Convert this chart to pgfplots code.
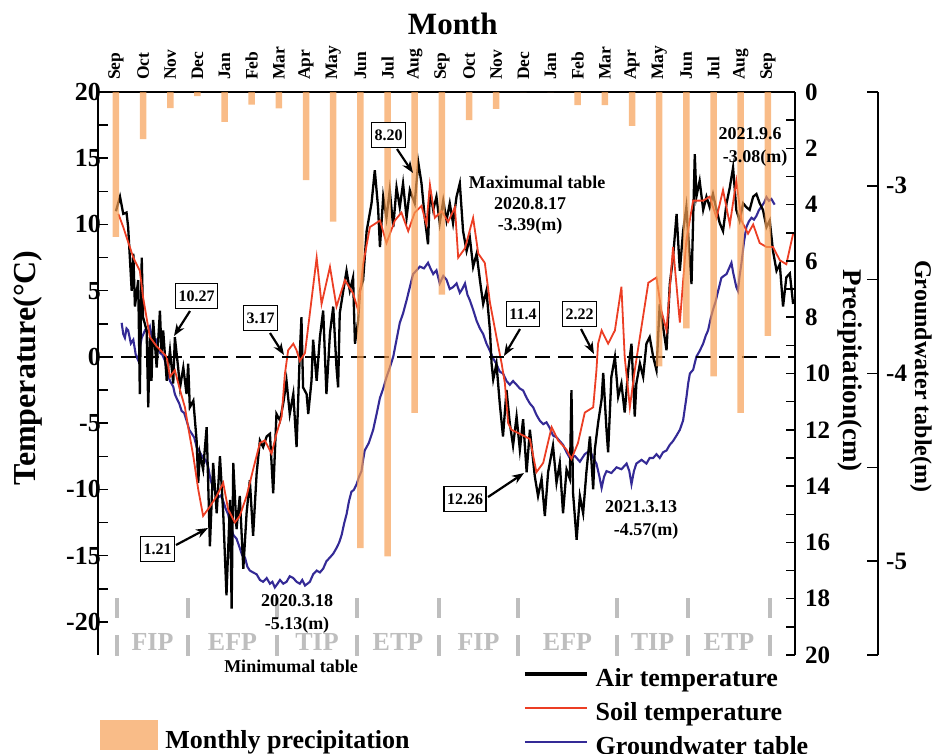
\documentclass[border=0pt]{standalone}
\usepackage{fontspec}
\setmainfont{Liberation Serif}
\usepackage{pgfplots}
\pgfplotsset{compat=1.18}
\usetikzlibrary{arrows.meta}
\definecolor{precip}{RGB}{247,160,85}
\definecolor{soil}{RGB}{236,62,36}
\definecolor{gw}{RGB}{52,42,150}
\definecolor{phase}{RGB}{190,190,190}
\newcommand{\fs}[1]{\fontsize{#1}{#1}\selectfont\bfseries}
\begin{document}
\begin{tikzpicture}[x=1pt,y=1pt]
\useasboundingbox (0,0) rectangle (934,-753);
\pgfplotsset{
  base/.style={scale only axis, width=697pt, height=563pt,
    at={(98pt,-655pt)}, anchor=south west, xmin=-0.66, xmax=25,
    /pgf/number format/assume math mode=true},
}
% ---------- groundwater line (hidden axis) ----------
\begin{axis}[base, ymin=-5.5, ymax=-2.5, hide axis]
\addplot[gw, line width=2.1pt] table {
0.21 -3.73
0.27 -3.79
0.33 -3.81
0.39 -3.76
0.45 -3.77
0.55 -3.84
0.64 -3.82
0.73 -3.90
0.82 -3.93
0.88 -3.86
0.95 -3.81
1.07 -3.77
1.16 -3.78
1.25 -3.75
1.31 -3.80
1.37 -3.81
1.50 -3.82
1.56 -3.87
1.62 -3.89
1.71 -3.90
1.80 -3.93
1.90 -4.00
1.99 -4.04
2.11 -4.07
2.17 -4.11
2.23 -4.13
2.33 -4.16
2.42 -4.20
2.51 -4.21
2.60 -4.25
2.70 -4.30
2.79 -4.32
2.88 -4.34
2.97 -4.39
3.09 -4.42
3.21 -4.45
3.30 -4.46
3.40 -4.50
3.49 -4.57
3.58 -4.61
3.68 -4.63
3.77 -4.66
3.86 -4.65
3.95 -4.68
4.04 -4.72
4.13 -4.75
4.22 -4.81
4.32 -4.86
4.44 -4.88
4.56 -4.93
4.65 -4.97
4.75 -4.98
4.84 -5.03
4.93 -5.05
5.05 -5.06
5.18 -5.07
5.30 -5.10
5.42 -5.11
5.55 -5.09
5.67 -5.12
5.76 -5.11
5.85 -5.14
5.95 -5.12
6.04 -5.10
6.16 -5.12
6.28 -5.11
6.40 -5.08
6.53 -5.09
6.65 -5.11
6.77 -5.12
6.86 -5.10
6.96 -5.13
7.05 -5.12
7.14 -5.11
7.26 -5.07
7.39 -5.05
7.51 -5.06
7.63 -5.04
7.75 -5.00
7.88 -4.98
8.00 -4.96
8.12 -4.93
8.22 -4.90
8.31 -4.86
8.40 -4.80
8.49 -4.75
8.58 -4.68
8.67 -4.63
8.76 -4.62
8.86 -4.59
8.95 -4.55
9.04 -4.52
9.10 -4.46
9.16 -4.41
9.31 -4.37
9.47 -4.30
9.59 -4.22
9.72 -4.13
9.84 -4.08
9.96 -4.02
10.08 -3.97
10.21 -3.91
10.33 -3.82
10.45 -3.73
10.57 -3.68
10.70 -3.61
10.82 -3.54
10.94 -3.47
11.07 -3.45
11.19 -3.43
11.34 -3.44
11.49 -3.41
11.58 -3.44
11.68 -3.47
11.80 -3.45
11.92 -3.52
12.05 -3.48
12.17 -3.50
12.29 -3.55
12.41 -3.54
12.54 -3.52
12.66 -3.57
12.75 -3.55
12.85 -3.52
12.94 -3.58
13.03 -3.61
13.15 -3.66
13.28 -3.72
13.40 -3.76
13.52 -3.79
13.64 -3.84
13.77 -3.88
13.89 -3.92
14.01 -3.95
14.13 -3.99
14.25 -4.00
14.38 -4.04
14.50 -4.06
14.62 -4.04
14.75 -4.06
14.87 -4.08
14.99 -4.09
15.12 -4.13
15.24 -4.16
15.36 -4.18
15.48 -4.22
15.60 -4.25
15.73 -4.27
15.85 -4.26
15.97 -4.29
16.09 -4.33
16.22 -4.34
16.34 -4.36
16.46 -4.38
16.59 -4.42
16.71 -4.45
16.90 -4.44
17.08 -4.47
17.26 -4.43
17.45 -4.41
17.57 -4.45
17.69 -4.48
17.80 -4.55
17.88 -4.61
17.97 -4.55
18.06 -4.52
18.24 -4.53
18.43 -4.50
18.61 -4.51
18.80 -4.48
18.90 -4.52
18.98 -4.59
19.07 -4.52
19.16 -4.48
19.35 -4.46
19.53 -4.48
19.65 -4.45
19.78 -4.45
19.90 -4.43
20.02 -4.45
20.14 -4.42
20.27 -4.41
20.39 -4.38
20.51 -4.36
20.64 -4.33
20.76 -4.30
20.88 -4.25
20.94 -4.19
21.00 -4.13
21.07 -4.05
21.13 -4.00
21.25 -3.98
21.37 -3.91
21.49 -3.88
21.62 -3.84
21.71 -3.80
21.80 -3.77
21.89 -3.71
21.98 -3.66
22.07 -3.62
22.17 -3.56
22.29 -3.49
22.38 -3.48
22.48 -3.47
22.57 -3.44
22.66 -3.41
22.72 -3.46
22.78 -3.50
22.84 -3.54
22.90 -3.56
22.96 -3.48
23.03 -3.41
23.12 -3.30
23.21 -3.22
23.30 -3.19
23.40 -3.17
23.49 -3.18
23.58 -3.16
23.67 -3.13
23.77 -3.11
23.86 -3.09
23.95 -3.06
24.04 -3.08
24.13 -3.07
24.25 -3.10
};
\end{axis}
% ---------- temperature axis ----------
\begin{axis}[base, ymin=-22.5, ymax=20,
  axis x line*=top, axis y line*=left,
  axis line style={line width=1.5pt},
  xtick={0,...,24},
  xticklabels={Sep,Oct,Nov,Dec,Jan,Feb,Mar,Apr,May,Jun,Jul,Aug,Sep,Oct,Nov,Dec,Jan,Feb,Mar,Apr,May,Jun,Jul,Aug,Sep},
  x tick style={draw=none},
  xticklabel style={rotate=90, anchor=west, font=\fs{17.5}, inner xsep=12pt, inner ysep=0pt},
  ytick={-20,-15,...,20}, minor ytick={-17.5,-12.5,...,17.5},
  y tick style={line width=1.5pt, black},
  tick align=inside, major tick length=10pt, minor tick length=10pt,
  yticklabel style={font=\fs{26}, inner sep=0pt, xshift=3pt},
  xlabel={Month}, xlabel style={font=\fs{31}, at={(axis description cs:0.509,1.103)}, anchor=base},
  ylabel={Temperature(°C)}, ylabel style={font=\fs{32}, at={(axis description cs:-0.10,0.51)}, anchor=center},
  legend style={at={(axis description cs:0.6098,-0.021)}, anchor=north west, draw=none, fill=none,
    inner sep=0pt, font=\fs{26}, row sep=8pt, column sep=6pt,
    nodes={inner sep=1pt, text height=18pt, text depth=6pt}},
  legend cell align=left,
  legend image code/.code={\draw[#1] (0pt,6pt) -- (62pt,6pt);},
]
\addplot[black, line width=2.3pt, forget plot] table {
0.00 11.0
0.15 12.1
0.27 10.8
0.39 10.9
0.45 9.8
0.58 5.0
0.64 7.8
0.70 3.8
0.82 5.8
0.88 -2.8
0.95 7.5
1.00 3.0
1.13 2.0
1.19 -3.8
1.25 1.5
1.31 -1.8
1.37 2.8
1.50 -0.8
1.62 3.5
1.68 0.3
1.74 2.0
1.87 -1.8
1.99 0.5
2.11 -2.0
2.17 1.5
2.29 -0.8
2.36 -2.3
2.48 -0.8
2.60 -2.8
2.66 -0.5
2.72 -3.8
2.85 -3.3
2.97 -6.3
3.03 -9.5
3.09 -7.3
3.21 -8.5
3.34 -5.3
3.46 -14.3
3.58 -8.0
3.71 -11.8
3.83 -7.5
3.95 -11.8
4.07 -18.0
4.20 -10.8
4.26 -19.0
4.32 -8.0
4.44 -13.0
4.56 -10.5
4.69 -16.0
4.81 -11.8
4.93 -9.3
5.05 -13.5
5.18 -8.8
5.30 -6.3
5.42 -6.8
5.55 -6.0
5.67 -5.8
5.79 -10.3
5.91 -4.3
6.04 -4.8
6.16 -3.5
6.28 -1.8
6.40 -4.3
6.53 -2.8
6.65 -6.8
6.77 0.3
6.83 3.0
6.89 -2.3
7.02 -2.8
7.08 -4.3
7.20 -1.8
7.26 1.3
7.39 -1.8
7.51 1.5
7.63 3.5
7.75 -2.8
7.88 1.8
8.00 3.8
8.12 -0.8
8.18 -2.3
8.24 3.3
8.37 5.0
8.49 6.5
8.61 5.0
8.73 6.0
8.80 1.0
8.92 2.8
8.98 5.0
9.10 5.8
9.23 9.5
9.41 11.6
9.53 14.1
9.65 11.3
9.72 8.3
9.84 12.1
9.96 10.5
10.08 12.6
10.21 9.8
10.33 12.8
10.45 11.3
10.57 13.1
10.70 10.5
10.82 12.6
11.00 11.6
11.13 14.7
11.25 13.1
11.37 10.5
11.49 8.5
11.56 12.6
11.68 11.1
11.80 12.1
11.92 10.1
12.05 11.8
12.17 10.3
12.29 11.6
12.41 10.1
12.54 12.1
12.66 13.1
12.78 9.5
12.91 8.0
13.03 9.0
13.15 6.8
13.28 7.8
13.40 5.8
13.52 4.0
13.64 5.0
13.77 2.0
13.83 -0.5
13.89 -1.7
14.01 -0.5
14.13 -3.5
14.25 -6.0
14.38 -2.5
14.50 -5.0
14.62 -6.7
14.75 -4.5
14.87 -7.0
14.99 -4.7
15.12 -8.7
15.24 -5.5
15.42 -9.0
15.54 -10.5
15.67 -9.2
15.79 -12.0
15.91 -8.7
16.09 -6.7
16.22 -9.5
16.34 -8.0
16.46 -11.8
16.59 -8.5
16.71 -9.2
16.77 -2.5
16.83 -10.3
16.96 -13.8
17.08 -10.5
17.20 -11.8
17.32 -8.7
17.45 -6.0
17.57 -10.0
17.63 -7.0
17.75 -5.0
17.88 -3.2
17.94 -1.2
18.06 -5.5
18.12 -7.2
18.24 -1.5
18.37 0.0
18.49 -3.0
18.61 -2.0
18.73 -4.2
18.86 -1.0
18.98 1.0
19.10 -4.5
19.16 -2.0
19.29 -0.5
19.41 -1.5
19.53 1.0
19.65 1.5
19.78 0.0
19.90 -1.0
20.02 4.0
20.14 2.3
20.27 0.5
20.39 5.5
20.51 7.5
20.64 10.8
20.76 6.5
20.88 9.5
21.00 11.3
21.19 5.5
21.31 15.3
21.37 12.1
21.49 13.3
21.62 11.1
21.74 12.1
21.86 11.3
21.98 12.3
22.11 11.1
22.23 10.1
22.35 9.5
22.48 11.6
22.60 12.8
22.72 14.3
22.84 11.1
22.96 10.3
23.09 11.6
23.21 11.3
23.33 11.1
23.46 12.1
23.58 12.3
23.70 11.6
23.82 11.1
23.95 9.8
24.07 10.3
24.19 8.0
24.32 6.5
24.44 7.0
24.56 3.8
24.68 6.0
24.81 6.3
24.93 4.0
};
\addplot[soil, line width=1.8pt, forget plot] table {
0.09 10.8
0.27 9.8
0.64 7.5
0.88 6.5
1.00 4.5
1.25 1.5
1.50 0.8
1.74 0.3
1.87 0.0
1.99 -1.5
2.17 -1.0
2.36 -2.5
2.54 -3.8
2.66 -5.3
2.85 -7.5
3.03 -10.0
3.21 -12.0
3.46 -11.3
3.71 -10.5
3.95 -9.5
4.13 -11.5
4.38 -12.5
4.56 -12.0
4.81 -10.5
5.05 -8.5
5.30 -6.5
5.48 -6.3
5.73 -7.3
5.91 -5.8
6.10 -4.5
6.22 -1.3
6.34 0.5
6.53 1.0
6.65 0.5
6.77 -0.3
6.96 0.3
7.14 3.3
7.39 7.5
7.57 4.0
7.88 6.8
8.12 3.8
8.43 5.8
8.73 4.8
8.92 3.5
9.10 7.0
9.35 9.8
9.72 10.3
9.96 8.6
10.27 10.3
10.51 10.9
10.76 9.5
11.00 10.9
11.25 11.4
11.43 10.0
11.56 13.0
11.74 10.5
11.99 11.0
12.23 10.2
12.48 11.3
12.60 7.5
12.85 8.2
13.15 10.5
13.34 7.8
13.58 7.1
13.77 4.1
14.01 1.5
14.20 -0.5
14.32 -2.0
14.44 -5.0
14.56 -5.5
14.87 -5.8
15.24 -6.2
15.48 -8.7
15.73 -8.0
16.04 -5.3
16.28 -6.3
16.59 -7.0
16.77 -7.7
17.01 -6.5
17.26 -4.2
17.57 -3.8
17.69 -1.0
17.75 1.0
17.88 2.0
18.12 1.0
18.37 2.0
18.61 5.3
18.73 0.0
18.92 -3.8
19.10 -1.0
19.29 1.5
19.60 5.6
19.90 6.0
20.08 3.5
20.27 2.0
20.51 8.3
20.76 2.6
21.00 8.8
21.25 11.8
21.62 11.8
21.86 12.1
22.11 10.5
22.35 12.6
22.60 10.0
22.84 13.3
23.03 10.3
23.27 9.3
23.46 10.0
23.70 8.6
23.95 8.3
24.19 8.3
24.44 7.3
24.68 7.0
24.93 9.3
};
\draw[black, line width=2.8pt, dash pattern=on 15pt off 8pt] (axis cs:-0.66,0) -- (axis cs:25,0);
\addlegendimage{black, line width=3.5pt}
\addlegendentry{Air temperature}
\addlegendimage{soil, line width=1.5pt}
\addlegendentry{Soil temperature}
\addlegendimage{gw, line width=2.5pt}
\addlegendentry{Groundwater table}
\end{axis}
% ---------- precipitation axis ----------
\begin{axis}[base, ymin=0, ymax=20, y dir=reverse,
  axis y line*=right, axis x line=none,
  axis line style={line width=1.5pt},
  ytick={0,2,...,20}, minor ytick={1,3,...,19},
  y tick style={line width=1.5pt, black},
  tick align=inside, major tick length=9pt, minor tick length=9pt,
  yticklabel style={font=\fs{25}, inner sep=0pt, xshift=10pt},
  ylabel={Precipitation(cm)}, ylabel style={font=\fs{27}, rotate=180, at={(axis description cs:1.079,0.505)}, anchor=center},
  legend style={at={(axis description cs:0.003,-0.115)}, anchor=north west, draw=none, fill=none,
    inner sep=0pt, font=\fs{26}, column sep=6pt,
    nodes={inner sep=1pt, text height=18pt, text depth=6pt}},
  legend image code/.code={\fill[#1] (0pt,-7pt) rectangle (58pt,23pt);},
]
\addplot[ybar, bar width=6.5pt, fill=precip, fill opacity=0.7, draw=none] coordinates {
(0,5.15) (1,1.67) (2,0.57) (3,0.15) (4,1.06) (5,0.45) (6,0.58) (7,3.13) (8,4.6)
(9,16.2) (10,16.5) (11,11.4) (12,7.2) (13,1.0) (14,0.6) (15,0) (16,0)
(17,0.47) (18,0.47) (19,1.2) (20,9.75) (21,8.4) (22,10.1) (23,11.4) (24,8.66)
};
\addlegendentry{Monthly precipitation}
\end{axis}
% ---------- groundwater scale ----------
\begin{axis}[scale only axis, width=1pt, height=563pt, at={(877pt,-655pt)}, anchor=south west,
  xmin=0, xmax=1, ymin=-5.5, ymax=-2.5,
  axis y line*=right, hide x axis,
  axis line style={line width=1.5pt},
  ytick={-5,-4,-3}, yticklabels={-5,-4,-3}, minor ytick={-5.5,-4.5,-3.5,-2.5},
  y tick style={line width=1.5pt, black},
  tick align=inside, major tick length=11pt, minor tick length=11pt,
  yticklabel style={font=\fs{25}, inner sep=0pt, xshift=8pt},
  ylabel={Groundwater table(m)}, ylabel style={font=\fs{24}, rotate=180, at={(axis description cs:44,0.495)}, anchor=center},
]
\end{axis}
% ---------- annotations ----------
\tikzset{ann/.style={font=\fs{18}, inner sep=0pt},
  box/.style={draw, line width=1.3pt, fill=white, inner xsep=3pt, minimum height=25pt, font=\fs{16}},
  arr/.style={-{Stealth[length=12pt,width=9pt]}, line width=2.2pt}}
\foreach \x in {117,188,277,357,439,518,617,688,770} {
  \draw[phase, line width=3.5pt] (\x,-598) -- (\x,-618);
  \draw[phase, line width=3.5pt] (\x,-635) -- (\x,-656);
}
\foreach \x/\t in {152.5/FIP,232.5/EFP,317/TIP,398/ETP,478.5/FIP,567.5/EFP,652.5/TIP,729/ETP}
  \node[phase, font=\fs{26}, anchor=base, inner sep=0pt] at (\x,-650) {\t};
\node[box] at (196.5,-296) {10.27};
\draw[arr] (190,-311) -- (174,-336);
\node[box] at (260.5,-318) {3.17};
\draw[arr] (270,-333) -- (284,-355);
\node[box] at (157.5,-549) {1.21};
\draw[arr] (176,-545) -- (208,-528);
\node[box] at (388.5,-135) {8.20};
\draw[arr] (397,-149) -- (413,-173);
\node[box] at (523,-314) {11.4};
\draw[arr] (520,-329) -- (504,-356);
\node[box] at (579.5,-314) {2.22};
\draw[arr] (581,-329) -- (594,-354);
\node[box] at (465,-499) {12.26};
\draw[arr] (488,-497) -- (524,-473);
\node[ann] at (537,-182) {Maximumal table};
\node[ann] at (530,-204) {2020.8.17};
\node[ann] at (530,-226) {-3.39(m)};
\node[ann] at (750,-134) {2021.9.6};
\node[ann] at (755,-158) {-3.08(m)};
\node[ann] at (297,-601) {2020.3.18};
\node[ann] at (297,-625) {-5.13(m)};
\node[ann] at (291,-666) {Minimumal table};
\node[ann] at (641,-507) {2021.3.13};
\node[ann] at (646,-531) {-4.57(m)};
\end{tikzpicture}
\end{document}
